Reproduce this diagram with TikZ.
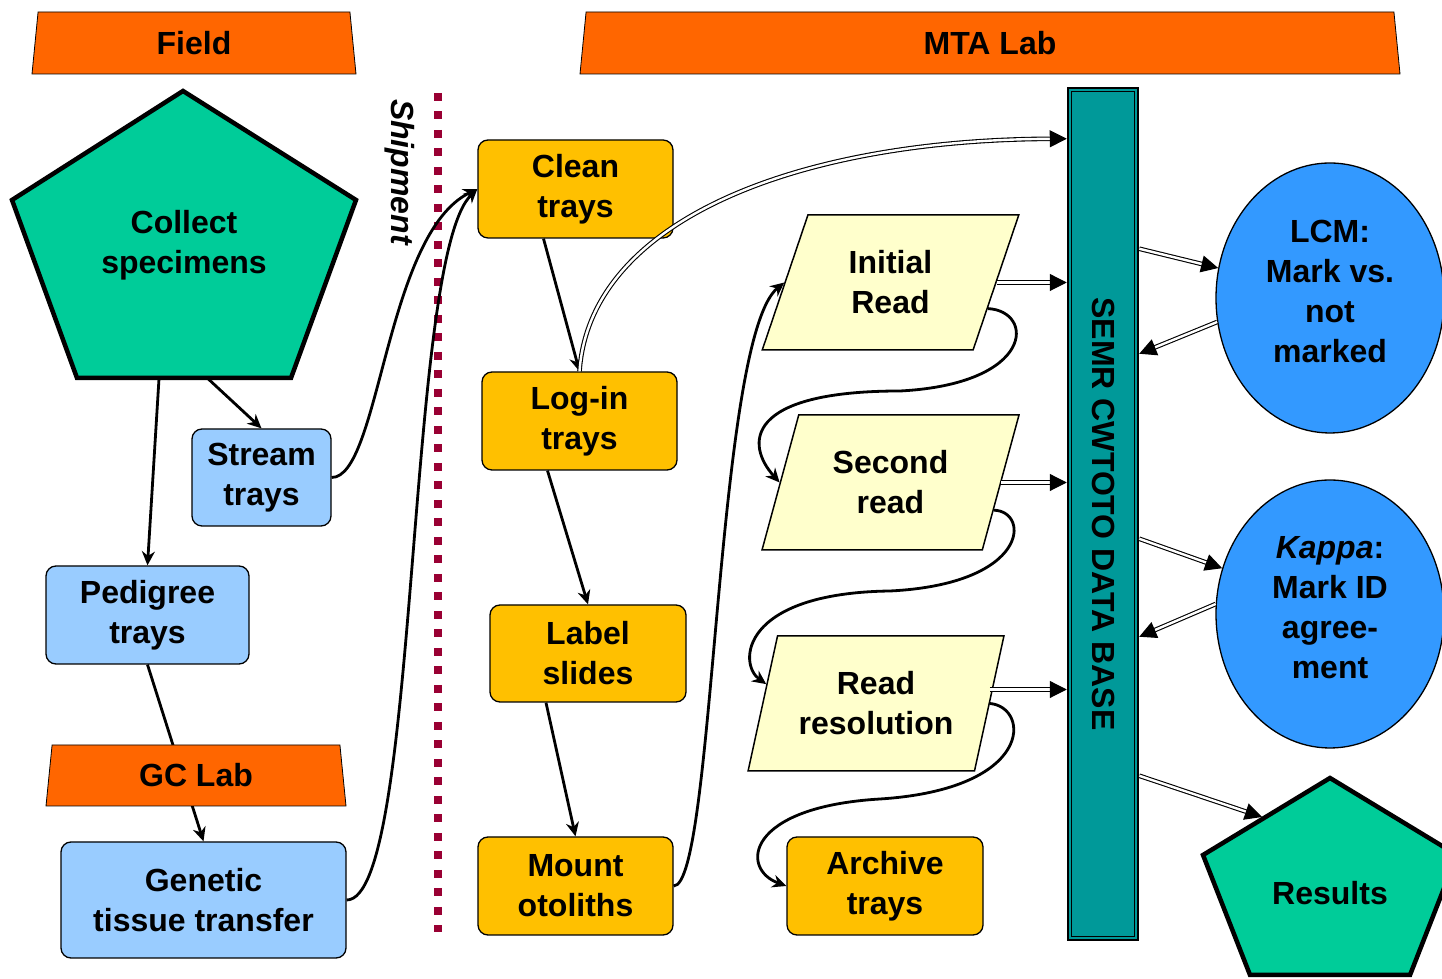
\documentclass[tikz,border=0pt]{standalone}
\usepackage{fontspec}
\setmainfont{Liberation Sans}
\usetikzlibrary{shapes.geometric,arrows.meta,calc}
\definecolor{bandorange}{HTML}{FF6600}
\definecolor{pentgreen}{HTML}{00CC99}
\definecolor{trayblue}{HTML}{99CCFF}
\definecolor{traygold}{HTML}{FFC000}
\definecolor{readyellow}{HTML}{FFFFCC}
\definecolor{dbteal}{HTML}{009999}
\definecolor{ovalblue}{HTML}{3399FF}
\definecolor{shipred}{HTML}{990033}
\begin{document}
\begin{tikzpicture}[x=1pt, y=1pt, font=\fontsize{32}{40}\selectfont\bfseries,
  band/.style = {draw, fill=bandorange, trapezium, trapezium angle=75.5, trapezium stretches body=true, minimum height=62pt, inner sep=0pt, line width=0.8pt},
  tray/.style = {draw, rounded corners=10pt, line width=1.3pt, align=center, inner sep=0pt},
  fieldbox/.style = {tray, fill=trayblue},
  labbox/.style = {tray, fill=traygold, minimum width=195pt, minimum height=98pt},
  readbox/.style = {draw, fill=readyellow, trapezium, trapezium left angle=70, trapezium right angle=110, trapezium stretches=true, minimum width=257pt, minimum height=135pt, line width=1.5pt, align=center, inner sep=0pt},
  oval/.style = {draw, ellipse, fill=ovalblue, minimum width=228pt, minimum height=270pt, align=center, line width=1.3pt, inner sep=0pt},
  pent/.style = {draw, fill=pentgreen, line width=4.5pt},
  shipline/.style = {draw=shipred, line width=8pt, dash pattern=on 8pt off 10.5pt},
  arr/.style = {line width=2.8pt, -{Stealth[length=14pt,width=13pt]}},
  dbl/.style = {double, double distance=2.4pt, line width=1.1pt, -{Triangle[length=17pt,width=17pt]}}]
\useasboundingbox (0,0) rectangle (1442,979);

\node[band, minimum width=324pt] (field) at (194,936) {Field};
\node[band, minimum width=820pt] (mta) at (990,936) {MTA Lab};

\draw[pent] (183,888) -- (356,779) -- (291,601) -- (77,601) -- (12,779) -- cycle;
\node[align=center, minimum width=344pt, minimum height=267pt, inner sep=0pt] (collect) at (184,734) {Collect\\specimens};
\node[fieldbox, minimum width=139pt, minimum height=97pt] (stream) at (261.5,501.5) {Stream\\trays};
\node[fieldbox, minimum width=203pt, minimum height=98pt] (pedigree) at (147.5,364) {Pedigree\\trays};
\node[fieldbox, minimum width=285pt, minimum height=116pt] (genetic) at (203.5,79) {Genetic\\tissue transfer};
\draw[arr] (pedigree.south) -- (genetic.north);
\node[band, minimum width=300pt, minimum height=61pt] (gclab) at (196,203.5) {GC Lab};
\draw[arr] ($(collect.south)+(-25,0)$) -- (pedigree.north);
\draw[arr] ($(collect.south)+(24,0)$) -- (stream.north);

\draw[shipline] (438,886) -- (438,47);
\node[rotate=-90, font=\fontsize{32}{40}\selectfont\bfseries\itshape] (ship) at (400,807) {Shipment};

\node[labbox] (clean) at (575.5,790) {Clean\\trays};
\node[labbox] (login) at (579.5,558) {Log-in\\trays};
\node[labbox, minimum width=196pt, minimum height=97pt] (label) at (588,325.5) {Label\\slides};
\node[labbox] (mount) at (575.5,93) {Mount\\otoliths};
\node[labbox, minimum width=196pt] (archive) at (885,93) {Archive\\trays};

\node[readbox] (initial) at (890.5,696.5) {Initial\\Read};
\node[readbox] (second) at (890.5,496.5) {Second\\read};
\node[readbox, minimum width=256pt] (resol) at (876,275.5) {Read\\resolution};

\node[draw, fill=dbteal, line width=2.5pt, minimum width=70pt, minimum height=852pt, inner sep=0pt] (db) at (1103,465) {};
\draw[line width=0.8pt] ($(db.south west)+(5,5)$) rectangle ($(db.north east)+(-5,-5)$);
\node[rotate=-90] (dbname) at (db.center) {SEMR CWTOTO DATA BASE};

\node[oval] (lcm) at (1330,681) {LCM:\\Mark vs.\\not\\marked\\[-26pt]};
\node[oval, minimum height=268pt] (kappa) at (1330,365) {\textit{Kappa}:\\Mark ID\\agree-\\ment\\[-26pt]};
\draw[pent] (1330,201) -- (1457,124) -- (1410,4) -- (1250,4) -- (1203,124) -- cycle;
\node (results) at (1330,86) {Results};
\coordinate (resin) at (1262,162);

\draw[arr] (stream.east) .. controls (380,501.5) and (385,745) .. (clean.west);
\draw[arr] (genetic.east) .. controls (420,79) and (405,720) .. (clean.west);
\draw[arr] ($(clean.south)+(-32,0)$) -- (login.north);
\draw[arr] ($(login.south)+(-32,0)$) -- (label.north);
\draw[arr] ($(label.south)+(-42,0)$) -- (mount.north);
\draw[dbl] (login.north) .. controls (590,760) and (800,839) .. ($(db.north west)+(0,-52)$);
\draw[arr] (mount.east) .. controls (715,93) and (715,640) .. (initial.west);

\coordinate (resout) at ($(resol.east)+(0,14)$);
\draw[dbl] (initial.east) -- (initial.east -| db.west);
\draw[dbl] (second.east) -- (second.east -| db.west);
\draw[dbl] (resout) -- (resout -| db.west);
\draw[arr] (initial.-15) .. controls (1035,668) and (1035,595) .. (900,588) .. controls (745,588) and (745,535) .. (second.west);
\draw[arr] (second.-15) .. controls (1030,468) and (1030,395) .. (890,388) .. controls (740,386) and (738,315) .. (resol.170);
\draw[arr] (resol.east) .. controls (1030,272) and (1035,190) .. (880,180) .. controls (745,172) and (740,110) .. (archive.west);

\draw[dbl] ($(db.north east)+(0,-162)$) -- (lcm.165);
\draw[dbl] (lcm.192) -- ($(db.north east)+(0,-267)$);
\draw[dbl] ($(db.north east)+(0,-452)$) -- (kappa.157);
\draw[dbl] (kappa.175) -- ($(db.north east)+(0,-550)$);
\draw[dbl] ($(db.north east)+(0,-689)$) -- (resin);
\end{tikzpicture}
\end{document}
